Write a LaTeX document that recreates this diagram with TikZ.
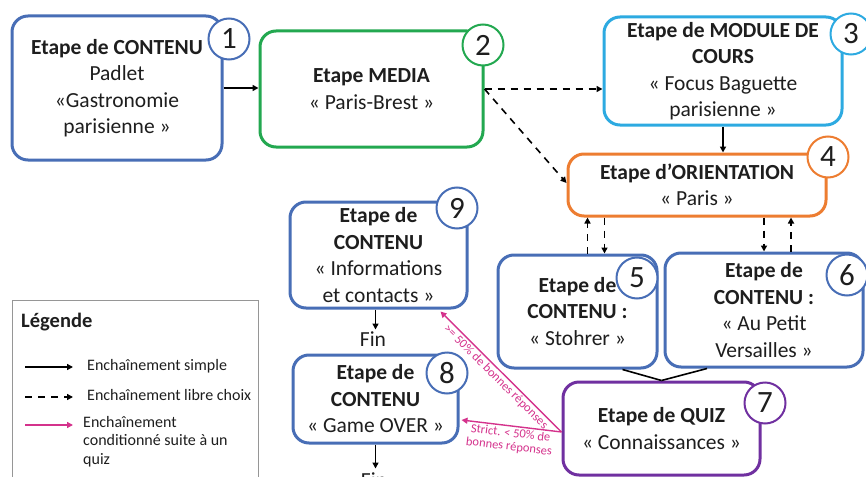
\documentclass[tikz,border=0pt]{standalone}
\usepackage{fontspec}
\setmainfont{Carlito}
\usetikzlibrary{arrows.meta}
\definecolor{cblue}{RGB}{72,110,182}
\definecolor{cgreen}{RGB}{35,168,80}
\definecolor{clight}{RGB}{45,170,225}
\definecolor{corange}{RGB}{237,125,49}
\definecolor{cpurple}{RGB}{112,48,160}
\definecolor{cpink}{RGB}{212,50,140}
\definecolor{txt}{RGB}{30,30,30}
\definecolor{lgray}{RGB}{150,150,150}
\tikzset{
  box/.style={draw, rounded corners=16pt, line width=3pt, fill=white, align=center,
    inner sep=0pt, text=txt, font=\fontsize{21.5}{26.5}\selectfont},
  num/.style={circle, draw, line width=2pt, fill=white, minimum size=41pt, inner sep=0pt,
    text=txt, font=\fontsize{31}{31}\selectfont},
  tip/.style={-{Triangle[length=6pt,width=6pt]}},
  solidarr/.style={tip, line width=1.6pt, draw=black},
  dasharr/.style={tip, line width=1.6pt, draw=black, dash pattern=on 7pt off 6pt},
  pinkarr/.style={tip, line width=1.4pt, draw=cpink},
  pinklbl/.style={text=cpink, font=\fontsize{12.5}{13.5}\selectfont, align=center, inner sep=1.5pt},
  fin/.style={text=txt, font=\fontsize{21.5}{24}\selectfont, inner sep=0pt},
  legtxt/.style={text=txt, font=\fontsize{16}{18.5}\selectfont, anchor=west, align=left, inner sep=0pt}
}
\begin{document}
\begin{tikzpicture}[x=1pt,y=-1pt]
\useasboundingbox (0,0) rectangle (866,476);
% legend
\node[draw=lgray, line width=1pt, minimum width=246pt, minimum height=190pt, anchor=north west, inner sep=0pt] (leg) at (12,300) {};
\node[text=txt, font=\fontsize{20.5}{22}\selectfont\bfseries, anchor=west, inner sep=0pt] (legt) at (21,322) {Légende};
\coordinate (l1a) at (25,367); \coordinate (l1b) at (73,367);
\coordinate (l2a) at (25,397); \coordinate (l2b) at (73,397);
\coordinate (l3a) at (25,425); \coordinate (l3b) at (73,425);
\draw[solidarr] (l1a) -- (l1b);
\draw[dasharr] (l2a) -- (l2b);
\draw[pinkarr] (l3a) -- (l3b);
\node[legtxt] (lt1) at (87,366) {Enchaînement simple};
\node[legtxt] (lt2) at (87,395) {Enchaînement libre choix};
\node[legtxt, anchor=north west] (lt3) at (83,416) {Enchaînement\\conditionné suite à un\\quiz};
% boxes
\node[box, draw=cblue, minimum width=210pt, minimum height=144pt] (b1) at (117,88)
  {\textbf{Etape de CONTENU}\\Padlet\\«Gastronomie\\parisienne »};
\node[box, draw=cgreen, minimum width=223pt, minimum height=116pt] (b2) at (371.5,89)
  {\textbf{Etape MEDIA}\\« Paris-Brest »};
\node[box, draw=clight, minimum width=238pt, minimum height=108pt] (b3) at (723,71)
  {\textbf{Etape de MODULE DE}\\\textbf{COURS}\\« Focus Baguette\\parisienne »};
\node[box, draw=corange, minimum width=258pt, minimum height=62pt] (b4) at (697,185)
  {\textbf{Etape d’ORIENTATION}\\« Paris »};
\node[box, draw=cblue, minimum width=159pt, minimum height=113pt] (b5) at (577.5,311.5)
  {\textbf{Etape de}\\\textbf{CONTENU :}\\« Stohrer »};
\node[box, draw=cblue, minimum width=198pt, minimum height=114pt] (b6) at (764,310)
  {\textbf{Etape de}\\\textbf{CONTENU :}\\« Au Petit\\Versailles »};
\node[box, draw=cpurple, minimum width=197pt, minimum height=93pt] (b7) at (661.5,428.5)
  {\textbf{Etape de QUIZ}\\« Connaissances »};
\node[box, draw=cblue, minimum width=177pt, minimum height=106pt] (b9) at (378.5,255)
  {\textbf{Etape de}\\\textbf{CONTENU}\\« Informations\\et contacts »};
\node[box, draw=cblue, minimum width=165pt, minimum height=88pt] (b8) at (375.5,399)
  {\textbf{Etape de}\\\textbf{CONTENU}\\« Game OVER »};
% number circles
\node[num, draw=cblue] (c1) at (229,39) {1};
\node[num, draw=cgreen] (c2) at (483,45) {2};
\node[num, draw=clight] (c3) at (851,34) {3};
\node[num, draw=corange] (c4) at (828,157) {4};
\node[num, draw=cblue] (c5) at (637,278) {5};
\node[num, draw=cblue] (c6) at (847,275) {6};
\node[num, draw=cpurple] (c7) at (765,403) {7};
\node[num, draw=cblue] (c9) at (457,208) {9};
\node[num, draw=cblue] (c8) at (447,373) {8};
% connectors
\draw[solidarr] (b1.east) -- (b1.east -| b2.west);
\draw[dasharr] (b2.east) -- (b2.east -| b3.west);
\draw[dasharr] (b2.east) -- ([yshift=2pt]b4.west);
\draw[solidarr] (b3.south) -- (b3.south |- b4.north);
\draw[dasharr] ([xshift=10pt]b5.north) -- ([xshift=10pt]b5.north |- b4.south);
\draw[dasharr] ([xshift=27pt]b4.south -| b5.north) -- ([xshift=27pt]b5.north);
\draw[dasharr] (b4.south -| b6.north) -- (b6.north);
\draw[dasharr] ([xshift=27pt]b6.north) -- ([xshift=27pt]b6.north |- b4.south);
\draw[line width=1.6pt] ([xshift=45pt]b5.south) -- (b7.north);
\draw[line width=1.6pt] ([xshift=-57pt]b6.south) -- (b7.north);
\coordinate (q) at ([yshift=-3.5pt]b7.west);
\draw[pinkarr] (q) -- ([xshift=62pt,yshift=-2pt]b9.south)
  node[pinklbl, sloped, below, pos=0.5] (pl1) {>= 50\% de bonnes réponses};
\draw[pinkarr] (q) -- ([yshift=-21pt,xshift=2pt]b8.east)
  node[pinklbl, sloped, below, pos=0.5] (pl2) {Strict. < 50\% de\\bonnes réponses};
% Fin
\draw[solidarr] ([xshift=-3pt]b9.south) -- ++(0,20) coordinate (f9a);
\node[fin] (f9) at (373,339) {Fin};
\draw[solidarr] (b8.south) -- ++(0,24) coordinate (f8a);
\node[fin] (f8) at (374,480) {Fin};
\end{tikzpicture}
\end{document}
